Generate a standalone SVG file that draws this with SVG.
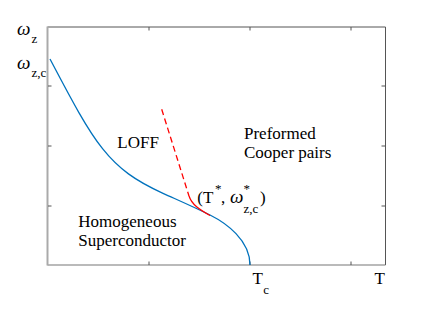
<svg xmlns="http://www.w3.org/2000/svg" width="436" height="315" viewBox="0 0 436 315">
<style>
text{fill:#000;font-family:"Liberation Serif","Times New Roman",serif}
.lbl{font-size:17px}
.om{font-size:19px;font-style:italic}
.sub{font-size:13px}
.ax{fill:none;stroke:#555;stroke-width:1}
.tick{stroke:#555;stroke-width:1}
.blue{fill:none;stroke:#0072BD;stroke-width:1.3}
.red{fill:none;stroke:#ff0000;stroke-width:1.3}
</style>
<rect width="436" height="315" fill="#fff"/>
<g id="axes">
<line class="ax" x1="47.5" y1="27" x2="385.5" y2="27"/>
<line class="ax" x1="385.5" y1="27" x2="385.5" y2="265"/>
<line x1="47.5" y1="265" x2="385.5" y2="265" stroke="#777" stroke-width="1.2"/>
<line x1="47.5" y1="26.5" x2="47.5" y2="265.5" stroke="#aaa" stroke-width="2"/>
<path class="tick" d="M149,27v3.5M250,27v3.5M351,27v3.5M149,265v-3.5M250,265v-3.5M351,265v-3.5M48,86h3.5M48,146h3.5M48,206h3.5M385,86h-3.5M385,146h-3.5M385,206h-3.5"/>
</g>
<g id="ticklabels">
<text class="om" x="17" y="35">ω</text>
<text class="sub" x="31.5" y="42.5">z</text>
<text class="om" x="17" y="69">ω</text>
<text class="sub" x="31.5" y="77">z,c</text>
<text class="lbl" x="252.5" y="284">T</text>
<text class="sub" x="263.3" y="294">c</text>
<text class="lbl" x="374.5" y="284">T</text>
</g>
<g id="connectors">
<path id="sc-boundary" class="blue" d="M50,59 C95,144.5 108,168.55 163,193.3 C180,201 195,207.5 210,215 C226,223 250,240 250,265"/>
<path id="loff-dashed" class="red" stroke-dasharray="6 3.6" d="M161.7,109.3 L189,196"/>
<path id="loff-solid" class="red" d="M189,196 C192,205 200,210 210,215.5"/>
</g>
<g id="node-loff"><text class="lbl" x="117.3" y="148">LOFF</text></g>
<g id="node-preformed"><text class="lbl" x="244" y="139.3">Preformed</text><text class="lbl" x="244" y="158.3">Cooper pairs</text></g>
<g id="node-homogeneous"><text class="lbl" x="78.3" y="226.5">Homogeneous</text><text class="lbl" x="78.3" y="246">Superconductor</text></g>
<g id="node-tstar">
<text class="lbl" x="197.3" y="203">(T</text>
<text class="sub" x="215" y="193">*</text>
<text class="lbl" x="221" y="203">,</text>
<text class="om" x="230" y="203">ω</text>
<text class="sub" x="243.5" y="193">*</text>
<text class="sub" x="243.5" y="213">z,c</text>
<text class="lbl" x="260" y="203">)</text>
</g>
</svg>
